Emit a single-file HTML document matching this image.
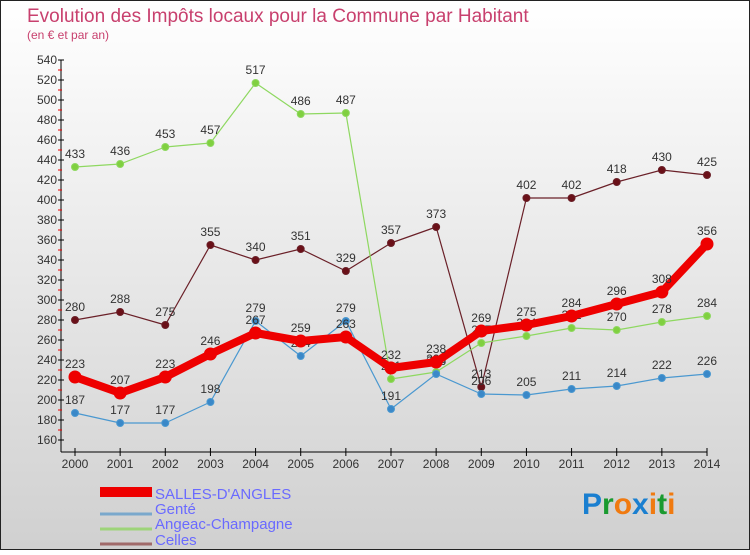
<!DOCTYPE html>
<html><head><meta charset="utf-8"><style>
body{margin:0}
svg text{font-family:"Liberation Sans",sans-serif}
</style></head><body>
<svg id="c" width="750" height="550" xmlns="http://www.w3.org/2000/svg">
<defs><linearGradient id="bg" x1="0" y1="0" x2="0" y2="1"><stop offset="0" stop-color="#ffffff"/><stop offset="1" stop-color="#d0d0d0"/></linearGradient></defs>
<rect x="0.5" y="0.5" width="749" height="549" fill="url(#bg)" stroke="#222"/>
<text x="27" y="22" font-size="19" fill="#c8406e">Evolution des Impôts locaux pour la Commune par Habitant</text>
<text x="27" y="39" font-size="12" fill="#c8406e">(en € et par an)</text>
<g id="axes"></g><g id="series"></g>
<g>
<rect x="100" y="487" width="52" height="10" fill="#e00"/>
<text x="155" y="499" font-size="15" fill="#6a6aff">SALLES-D'ANGLES</text>
<line x1="100" y1="514" x2="152" y2="514" stroke="#7aa8cc" stroke-width="3"/>
<text x="155" y="514" font-size="15" fill="#6a6aff">Genté</text>
<line x1="100" y1="529" x2="152" y2="529" stroke="#9ed47a" stroke-width="3"/>
<text x="155" y="529" font-size="15" fill="#6a6aff">Angeac-Champagne</text>
<line x1="100" y1="544" x2="152" y2="544" stroke="#a06a6a" stroke-width="3"/>
<text x="155" y="545" font-size="15" fill="#6a6aff">Celles</text>
</g>
<g font-size="30" font-weight="bold">
<text x="582" y="514"><tspan fill="#1a7fd0">P</tspan><tspan fill="#1a9a30">r</tspan><tspan fill="#f07a10">o</tspan><tspan fill="#1a7fd0">x</tspan><tspan fill="#f07a10">i</tspan><tspan fill="#1a9a30">t</tspan><tspan fill="#f07a10">i</tspan></text>
</g>
</svg>
<script>
const years=[2000,2001,2002,2003,2004,2005,2006,2007,2008,2009,2010,2011,2012,2013,2014];
const salles=[223,207,223,246,267,259,263,232,238,269,275,284,296,308,356];
const gente=[187,177,177,198,279,244,279,191,226,206,205,211,214,222,226];
const angeac=[433,436,453,457,517,486,487,221,228,257,264,272,270,278,284];
const celles=[280,288,275,355,340,351,329,357,373,213,402,402,418,430,425];
const yTicks=[160,180,200,220,240,260,280,300,320,340,360,380,400,420,440,460,480,500,520,540];
const NS="http://www.w3.org/2000/svg";
const X=i=>75+i*(707-75)/(years.length-1);
const Y=v=>440-(v-160)*(380/380);
function mk(t,a,p){const e=document.createElementNS(NS,t);for(const k in a)e.setAttribute(k,a[k]);p.appendChild(e);return e;}
const ax=document.getElementById('axes');
let yl=mk('line',{x1:61,y1:Y(540),x2:61,y2:452,stroke:'#000'},ax);


yTicks.forEach((v,i)=>{
 mk('line',{x1:58,y1:Y(v),x2:64,y2:Y(v),stroke:'#000'},ax);
 if(i<yTicks.length-1) mk('line',{x1:58,y1:Y(v+10),x2:62,y2:Y(v+10),stroke:'#e00'},ax);
 const t=mk('text',{x:57,y:Y(v)+4,'font-size':12,'text-anchor':'end',fill:'#333'},ax);
 t.textContent=v;
 
 
});
let xl=mk('line',{x1:61,y1:452,x2:X(14),y2:452,stroke:'#000'},ax);


years.forEach((y,i)=>{
 mk('line',{x1:X(i),y1:448,x2:X(i),y2:456,stroke:'#000'},ax);
 const t=mk('text',{x:X(i),y:468,'font-size':12,'text-anchor':'middle',fill:'#333'},ax);
 t.textContent=y;
 
 
});
const sg=document.getElementById('series');
function draw(d,color,fill,w,r,name){
 const g=mk('g',{},sg);
 
 
 const pl=mk('polyline',{points:d.map((v,i)=>X(i)+','+Y(v)).join(' '),fill:'none',stroke:color,'stroke-width':w,'stroke-linejoin':'round'},g);
 
 
 d.forEach((v,i)=>{
  const c=mk('circle',{cx:X(i),cy:Y(v),r:r,fill:fill,stroke:color,'stroke-width':1},g);
  
  
  const t=mk('text',{x:X(i),y:Y(v)-9,'font-size':12,'text-anchor':'middle',fill:'#333'},g);
  t.textContent=v;
  
  
 });
}
draw(celles,'#6a2028','#6a1018',1.2,3.5,'celles');
draw(angeac,'#8ed860','#80d040',1.2,3.5,'angeac');
draw(gente,'#4a98d0','#3a88c8',1.2,3.5,'gente');
draw(salles,'#ee0000','#ee0000',8,6,'salles');
</script>
</body></html>
